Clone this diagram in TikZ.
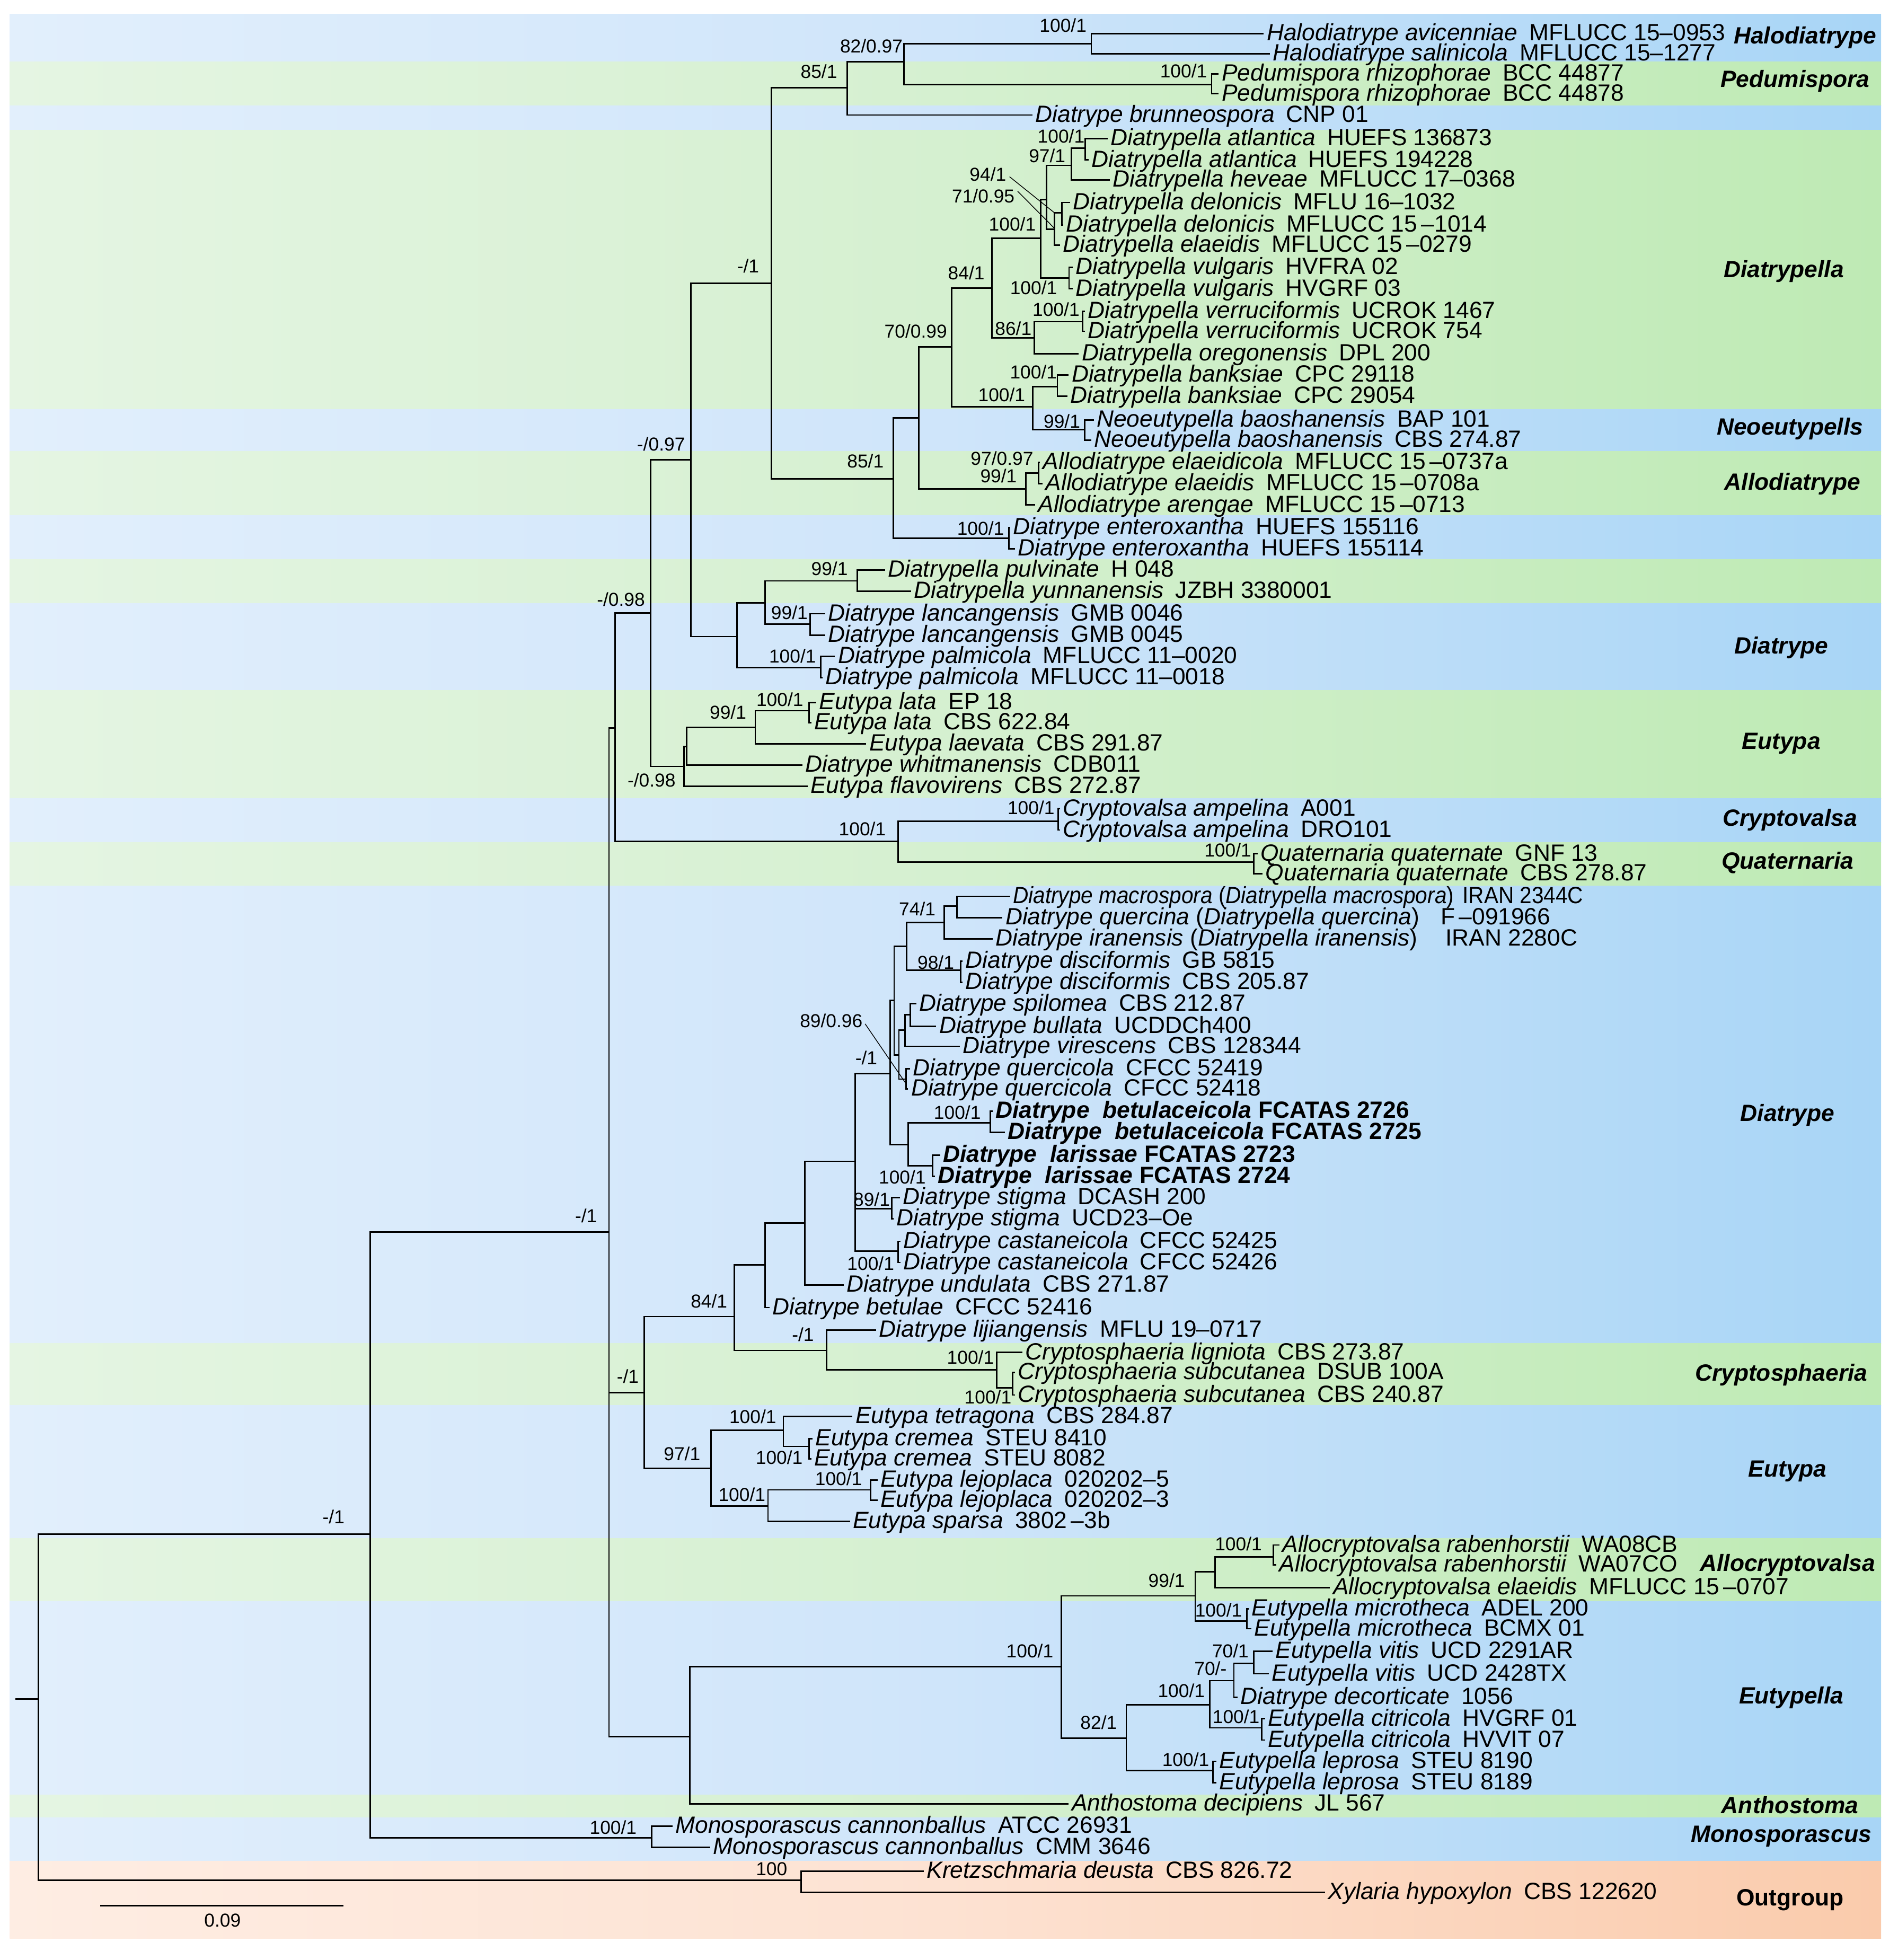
\documentclass[tikz,border=0pt]{standalone}
\usepackage{fontspec}
\usepackage{graphicx}
\setmainfont{Liberation Sans}

\definecolor{bandblueL}{RGB}{226,239,252}
\definecolor{bandblueM}{RGB}{207,229,250}
\definecolor{bandblueR}{RGB}{168,213,246}
\definecolor{bandgreenL}{RGB}{229,245,227}
\definecolor{bandgreenM}{RGB}{213,240,208}
\definecolor{bandgreenR}{RGB}{190,234,180}
\definecolor{bandpeachL}{RGB}{254,237,227}
\definecolor{bandpeachM}{RGB}{253,226,210}
\definecolor{bandpeachR}{RGB}{250,203,172}

\newcommand{\leaffont}{\fontsize{9.4}{10}\selectfont}
\newcommand{\supfont}{\fontsize{7.5}{8}\selectfont}
\newcommand{\taxon}[2]{\textit{#1}\hspace{0.5em}#2}
\newcommand{\newtaxon}[2]{\textbf{\textit{#1}\hspace{0.3em}#2}}

\begin{document}
\begin{tikzpicture}[x=0.5pt, y=-0.5pt,
    branch/.style={line width=0.6pt, line join=miter},
    leaf/.style={anchor=west, inner xsep=1pt, inner ysep=0pt, font=\leaffont, text height=0.68em, text depth=0.12em},
    sup/.style={anchor=east, inner sep=0pt, font=\supfont},
    grp/.style={font=\leaffont\bfseries\itshape, inner sep=0pt},
    ptr/.style={line width=0.3pt, shorten <=1.5pt}]
  \useasboundingbox (0,0) rectangle (1518,1568);

  \foreach \ya/\yb/\bc in {11.3/49.5/bandblue, 49.5/84.8/bandgreen, 84.8/103.9/bandblue,
      103.9/327.7/bandgreen, 327.7/361.2/bandblue, 361.2/412.3/bandgreen, 412.3/447.6/bandblue,
      447.6/482.9/bandgreen, 482.9/552.3/bandblue, 552.3/638.7/bandgreen, 638.7/674/bandblue,
      674/708.8/bandgreen, 708.8/1074.5/bandblue, 1074.5/1124.4/bandgreen, 1124.4/1230.6/bandblue,
      1230.6/1281/bandgreen, 1281/1436/bandblue, 1436/1454.3/bandgreen, 1454.3/1489/bandblue,
      1489/1550.7/bandpeach}
    \shade[left color=\bc L, right color=\bc R, middle color=\bc M] (7.8,\ya) rectangle (1504.9,\yb);

  \coordinate (rstub) at (12.3,1359.3);
  \coordinate (root) at (30.9,1359.3);
  \coordinate (nin) at (296,1227.3);
  \coordinate (nout) at (640.8,1504.1);
  \coordinate (nmono) at (521.3,1470.3);
  \coordinate (nmain) at (487.2,985.5);
  \coordinate (nupp) at (492,582.2);
  \coordinate (n098) at (520.3,490.2);
  \coordinate (n097) at (552.8,368);
  \coordinate (ntop) at (617,226.7);
  \coordinate (n85a) at (677.9,70.3);
  \coordinate (n82) at (723.2,49.3);
  \coordinate (nhalo) at (873,35);
  \coordinate (nped) at (969.3,67.5);
  \coordinate (n85b) at (714.7,383.1);
  \coordinate (n735) at (735,334.5);
  \coordinate (n70) at (761.4,277.5);
  \coordinate (n84) at (793.5,230.4);
  \coordinate (n100c) at (832.5,190.5);
  \coordinate (nB) at (837.3,159.5);
  \coordinate (n97) at (857.1,132.3);
  \coordinate (natl) at (868.1,118.5);
  \coordinate (ndel) at (843.4,183.5);
  \coordinate (ndel2) at (849.5,170.1);
  \coordinate (nvul) at (855.2,222.4);
  \coordinate (n86) at (827.3,270.4);
  \coordinate (nverr) at (866.2,257.4);
  \coordinate (n100b) at (826.3,325.5);
  \coordinate (nbank) at (845.9,309.3);
  \coordinate (nneo) at (867.9,343.5);
  \coordinate (nallo) at (820.5,391.2);
  \coordinate (nallo2) at (830.7,378.3);
  \coordinate (nent) at (807,430.6);
  \coordinate (n590) at (589.6,509.2);
  \coordinate (n612) at (612,482.4);
  \coordinate (npul) at (686,464.7);
  \coordinate (nlan) at (648.1,499.2);
  \coordinate (npal) at (656.6,534);
  \coordinate (ne1) at (547.1,613.1);
  \coordinate (ne2) at (549.3,597.2);
  \coordinate (n99e) at (604.2,581.9);
  \coordinate (nlata) at (647.1,568.6);
  \coordinate (ncq) at (718.4,673.2);
  \coordinate (ncry) at (846.6,657);
  \coordinate (nqua) at (1003,689.8);
  \coordinate (n515) at (515.3,1114.2);
  \coordinate (n84d) at (587.3,1053.2);
  \coordinate (n612b) at (612,1011.8);
  \coordinate (n644) at (643.7,978.4);
  \coordinate (n684) at (684.3,929);
  \coordinate (nM) at (712,859);
  \coordinate (n715) at (715.3,800.4);
  \coordinate (n725) at (725.2,757.2);
  \coordinate (n74) at (755.5,737.9);
  \coordinate (nmac) at (765.7,724.7);
  \coordinate (ndisc) at (768.6,776.3);
  \coordinate (n719) at (719.1,843.9);
  \coordinate (n724) at (724,824.1);
  \coordinate (nspi) at (728.3,811.7);
  \coordinate (nquer) at (725,863.3);
  \coordinate (nbl) at (726.6,915.6);
  \coordinate (nbet) at (792.2,898.1);
  \coordinate (nlar) at (746.2,932.7);
  \coordinate (nstig) at (713.5,966.8);
  \coordinate (ncast) at (718.4,1000.8);
  \coordinate (nlij) at (661.2,1080.4);
  \coordinate (ncrys) at (797.2,1095.9);
  \coordinate (nsub) at (810.2,1110.1);
  \coordinate (n97e) at (568.7,1174.7);
  \coordinate (ntet) at (626.7,1144.3);
  \coordinate (ncre) at (647.1,1157.1);
  \coordinate (nlejs) at (614.4,1204.7);
  \coordinate (nlej) at (696.3,1191.9);
  \coordinate (neua) at (551.9,1389.2);
  \coordinate (n100e) at (849.2,1333.2);
  \coordinate (n99f) at (956.1,1276.7);
  \coordinate (nacv) at (971.9,1257.4);
  \coordinate (nrab) at (1018.6,1245.5);
  \coordinate (nmic) at (997.5,1297);
  \coordinate (n82e) at (901,1390.6);
  \coordinate (n100f) at (967.7,1363.9);
  \coordinate (n70m) at (987.1,1344.5);
  \coordinate (nvit) at (1002.9,1330.9);
  \coordinate (ncit) at (1009.2,1382.3);
  \coordinate (nlep) at (970.5,1416.5);

  \node[leaf] (l01) at (1011,27) {\taxon{Halodiatrype avicenniae}{MFLUCC 15\textendash0953}};
  \node[leaf] (l02) at (1016,43) {\taxon{Halodiatrype salinicola}{MFLUCC 15\textendash1277}};
  \node[leaf] (l03) at (975,59) {\taxon{Pedumispora rhizophorae}{BCC 44877}};
  \node[leaf] (l04) at (975,75) {\taxon{Pedumispora rhizophorae}{BCC 44878}};
  \node[leaf] (l05) at (826,92) {\taxon{Diatrype brunneospora}{CNP 01}};
  \node[leaf] (l06) at (886,111) {\taxon{Diatrypella atlantica}{HUEFS 136873}};
  \node[leaf] (l07) at (871,128) {\taxon{Diatrypella atlantica}{HUEFS 194228}};
  \node[leaf] (l08) at (888,144) {\taxon{Diatrypella heveae}{MFLUCC 17\textendash0368}};
  \node[leaf] (l09) at (856,162) {\taxon{Diatrypella delonicis}{MFLU 16\textendash1032}};
  \node[leaf] (l10) at (850.5,180) {\taxon{Diatrypella delonicis}{MFLUCC 15\,\textendash1014}};
  \node[leaf] (l11) at (848,196) {\taxon{Diatrypella elaeidis}{MFLUCC 15\,\textendash0279}};
  \node[leaf] (l12) at (858,214) {\taxon{Diatrypella vulgaris}{HVFRA 02}};
  \node[leaf] (l13) at (858,231) {\taxon{Diatrypella vulgaris}{HVGRF 03}};
  \node[leaf] (l14) at (868,249) {\taxon{Diatrypella verruciformis}{UCROK 1467}};
  \node[leaf] (l15) at (868,265) {\taxon{Diatrypella verruciformis}{UCROK 754}};
  \node[leaf] (l16) at (863,283) {\taxon{Diatrypella oregonensis}{DPL 200}};
  \node[leaf] (l17) at (855,300) {\taxon{Diatrypella banksiae}{CPC 29118}};
  \node[leaf] (l18) at (854,317) {\taxon{Diatrypella banksiae}{CPC 29054}};
  \node[leaf] (l19) at (875,336) {\taxon{Neoeutypella baoshanensis}{BAP 101}};
  \node[leaf] (l20) at (873,352) {\taxon{Neoeutypella baoshanensis}{CBS 274.87}};
  \node[leaf] (l21) at (832,370) {\taxon{Allodiatrype elaeidicola}{MFLUCC 15\,\textendash0737a}};
  \node[leaf] (l22) at (834,387) {\taxon{Allodiatrype elaeidis}{MFLUCC 15\,\textendash0708a}};
  \node[leaf] (l23) at (828,404) {\taxon{Allodiatrype arengae}{MFLUCC 15\,\textendash0713}};
  \node[leaf] (l24) at (808,422) {\taxon{Diatrype enteroxantha}{HUEFS 155116}};
  \node[leaf] (l25) at (812,439) {\taxon{Diatrype enteroxantha}{HUEFS 155114}};
  \node[leaf] (l26) at (708,456) {\taxon{Diatrypella pulvinate}{H 048}};
  \node[leaf] (l27) at (729,473) {\taxon{Diatrypella yunnanensis}{JZBH 3380001}};
  \node[leaf] (l28) at (660,491) {\taxon{Diatrype lancangensis}{GMB 0046}};
  \node[leaf] (l29) at (660,508) {\taxon{Diatrype lancangensis}{GMB 0045}};
  \node[leaf] (l30) at (668,525) {\taxon{Diatrype palmicola}{MFLUCC 11\textendash0020}};
  \node[leaf] (l31) at (658,542) {\taxon{Diatrype palmicola}{MFLUCC 11\textendash0018}};
  \node[leaf] (l32) at (653,562) {\taxon{Eutypa lata}{EP 18}};
  \node[leaf] (l33) at (649,578) {\taxon{Eutypa lata}{CBS 622.84}};
  \node[leaf] (l34) at (693,595) {\taxon{Eutypa laevata}{CBS 291.87}};
  \node[leaf] (l35) at (642,612) {\taxon{Diatrype whitmanensis}{CDB011}};
  \node[leaf] (l36) at (646,629) {\taxon{Eutypa flavovirens}{CBS 272.87}};
  \node[leaf] (l37) at (848,647) {\taxon{Cryptovalsa ampelina}{A001}};
  \node[leaf] (l38) at (848,664) {\taxon{Cryptovalsa ampelina}{DRO101}};
  \node[leaf] (l39) at (1006,683) {\taxon{Quaternaria quaternate}{GNF 13}};
  \node[leaf] (l40) at (1010,699) {\taxon{Quaternaria quaternate}{CBS 278.87}};
  \node[leaf] (l41) at (808,717) {\scalebox{0.915}[1]{\textit{Diatrype macrospora} (\textit{Diatrypella macrospora})\hspace{0.4em}IRAN 2344C}};
  \node[leaf] (l42) at (802,734) {\textit{Diatrype quercina} (\textit{Diatrypella quercina})\hspace{0.9em}F\,\textendash091966};
  \node[leaf] (l43) at (794,751) {\textit{Diatrype iranensis} (\textit{Diatrypella iranensis})\hspace{1.2em}IRAN 2280C};
  \node[leaf] (l44) at (770,769) {\taxon{Diatrype disciformis}{GB 5815}};
  \node[leaf] (l45) at (770,786) {\taxon{Diatrype disciformis}{CBS 205.87}};
  \node[leaf] (l46) at (733,803) {\taxon{Diatrype spilomea}{CBS 212.87}};
  \node[leaf] (l47) at (749,821) {\taxon{Diatrype bullata}{UCDDCh400}};
  \node[leaf] (l48) at (768,837) {\taxon{Diatrype virescens}{CBS 128344}};
  \node[leaf] (l49) at (728,855) {\taxon{Diatrype quercicola}{CFCC 52419}};
  \node[leaf] (l50) at (726.5,871) {\taxon{Diatrype quercicola}{CFCC 52418}};
  \node[leaf] (l51) at (794,889) {\newtaxon{Diatrype\ \ betulaceicola}{FCATAS 2726}};
  \node[leaf] (l52) at (804,906) {\newtaxon{Diatrype\ \ betulaceicola}{FCATAS 2725}};
  \node[leaf] (l53) at (752,924) {\newtaxon{Diatrype\ \ larissae}{FCATAS 2723}};
  \node[leaf] (l54) at (748,941) {\newtaxon{Diatrype\ \ larissae}{FCATAS 2724}};
  \node[leaf] (l55) at (720,958) {\taxon{Diatrype stigma}{DCASH 200}};
  \node[leaf] (l56) at (715,975) {\taxon{Diatrype stigma}{UCD23\textendash Oe}};
  \node[leaf] (l57) at (720.5,993) {\taxon{Diatrype castaneicola}{CFCC 52425}};
  \node[leaf] (l58) at (720.5,1010) {\taxon{Diatrype castaneicola}{CFCC 52426}};
  \node[leaf] (l59) at (675,1028) {\taxon{Diatrype undulata}{CBS 271.87}};
  \node[leaf] (l60) at (615.5,1046) {\taxon{Diatrype betulae}{CFCC 52416}};
  \node[leaf] (l61) at (701,1064) {\taxon{Diatrype lijiangensis}{MFLU 19\textendash0717}};
  \node[leaf] (l62) at (818,1082) {\taxon{Cryptosphaeria ligniota}{CBS 273.87}};
  \node[leaf] (l63) at (812,1098) {\taxon{Cryptosphaeria subcutanea}{DSUB 100A}};
  \node[leaf] (l64) at (812,1116) {\taxon{Cryptosphaeria subcutanea}{CBS 240.87}};
  \node[leaf] (l65) at (682,1133) {\taxon{Eutypa tetragona}{CBS 284.87}};
  \node[leaf] (l66) at (650,1151) {\taxon{Eutypa cremea}{STEU 8410}};
  \node[leaf] (l67) at (649,1167) {\taxon{Eutypa cremea}{STEU 8082}};
  \node[leaf] (l68) at (702,1184) {\taxon{Eutypa lejoplaca}{020202\textendash5}};
  \node[leaf] (l69) at (702,1200) {\taxon{Eutypa lejoplaca}{020202\textendash3}};
  \node[leaf] (l70) at (680,1217) {\taxon{Eutypa sparsa}{3802\,\textendash3b}};
  \node[leaf] (l71) at (1023.5,1236) {\taxon{Allocryptovalsa rabenhorstii}{WA08CB}};
  \node[leaf] (l72) at (1021,1252) {\taxon{Allocryptovalsa rabenhorstii}{WA07CO}};
  \node[leaf] (l73) at (1064,1270) {\taxon{Allocryptovalsa elaeidis}{MFLUCC 15\,\textendash0707}};
  \node[leaf] (l74) at (999,1287) {\taxon{Eutypella microtheca}{ADEL 200}};
  \node[leaf] (l75) at (1001,1303) {\taxon{Eutypella microtheca}{BCMX 01}};
  \node[leaf] (l76) at (1018,1321) {\taxon{Eutypella vitis}{UCD 2291AR}};
  \node[leaf] (l77) at (1015,1339) {\taxon{Eutypella vitis}{UCD 2428TX}};
  \node[leaf] (l78) at (990,1358) {\taxon{Diatrype decorticate}{1056}};
  \node[leaf] (l79) at (1012,1375) {\taxon{Eutypella citricola}{HVGRF 01}};
  \node[leaf] (l80) at (1012,1392) {\taxon{Eutypella citricola}{HVVIT 07}};
  \node[leaf] (l81) at (973,1409) {\taxon{Eutypella leprosa}{STEU 8190}};
  \node[leaf] (l82) at (973,1426) {\taxon{Eutypella leprosa}{STEU 8189}};
  \node[leaf] (l83) at (855,1443) {\taxon{Anthostoma decipiens}{JL 567}};
  \node[leaf] (l84) at (538,1461) {\taxon{Monosporascus cannonballus}{ATCC 26931}};
  \node[leaf] (l85) at (568,1478) {\taxon{Monosporascus cannonballus}{CMM 3646}};
  \node[leaf] (l86) at (739,1497) {\taxon{Kretzschmaria deusta}{CBS 826.72}};
  \node[leaf] (l87) at (1060,1514) {\taxon{Xylaria hypoxylon}{CBS 122620}};

  \draw[branch] (rstub) -- (root);
  \foreach \a/\b in {root/nin, root/nout, nout/l86.west, nout/l87.west, nin/nmain, nin/nmono,
      nmono/l84.west, nmono/l85.west, nmain/nupp, nmain/n515, nmain/neua, nupp/n098, nupp/ncq,
      n098/n097, n098/ne1, n097/ntop, n097/n590, ntop/n85a, ntop/n85b, n85a/n82, n85a/l05.west,
      n82/nhalo, n82/nped, nhalo/l01.west, nhalo/l02.west, nped/l03.west, nped/l04.west,
      n85b/n735, n85b/nent, n735/n70, n735/nallo, n70/n84, n70/n100b, n84/n100c, n84/n86,
      n100c/nB, n100c/nvul, nB/n97, nB/ndel, n97/natl, n97/l08.west, natl/l06.west, natl/l07.west,
      ndel/ndel2, ndel/l11.west, ndel2/l09.west, ndel2/l10.west, nvul/l12.west, nvul/l13.west,
      n86/nverr, n86/l16.west, nverr/l14.west, nverr/l15.west, n100b/nbank, n100b/nneo,
      nbank/l17.west, nbank/l18.west, nneo/l19.west, nneo/l20.west, nallo/nallo2, nallo/l23.west,
      nallo2/l21.west, nallo2/l22.west, nent/l24.west, nent/l25.west, n590/n612, n590/npal,
      n612/npul, n612/nlan, npul/l26.west, npul/l27.west, nlan/l28.west, nlan/l29.west,
      npal/l30.west, npal/l31.west, ne1/ne2, ne1/l36.west, ne2/n99e, ne2/l35.west,
      n99e/nlata, n99e/l34.west, nlata/l32.west, nlata/l33.west, ncq/ncry, ncq/nqua,
      ncry/l37.west, ncry/l38.west, nqua/l39.west, nqua/l40.west, n515/n84d, n515/n97e,
      n84d/n612b, n84d/nlij, n612b/n644, n612b/l60.west, n644/n684, n644/l59.west,
      n684/nM, n684/nstig, n684/ncast, nM/n715, nM/nbl, n715/n725, n715/n719,
      n725/n74, n725/ndisc, n74/nmac, n74/l43.west, nmac/l41.west, nmac/l42.west,
      ndisc/l44.west, ndisc/l45.west, n719/n724, n719/nquer, n724/nspi, n724/l48.west,
      nspi/l46.west, nspi/l47.west, nquer/l49.west, nquer/l50.west, nbl/nbet, nbl/nlar,
      nbet/l51.west, nbet/l52.west, nlar/l53.west, nlar/l54.west, nstig/l55.west, nstig/l56.west,
      ncast/l57.west, ncast/l58.west, nlij/l61.west, nlij/ncrys, ncrys/l62.west, ncrys/nsub,
      nsub/l63.west, nsub/l64.west, n97e/ntet, n97e/nlejs, ntet/l65.west, ntet/ncre,
      ncre/l66.west, ncre/l67.west, nlejs/nlej, nlejs/l70.west, nlej/l68.west, nlej/l69.west,
      neua/n100e, neua/l83.west, n100e/n99f, n100e/n82e, n99f/nacv, n99f/nmic,
      nacv/nrab, nacv/l73.west, nrab/l71.west, nrab/l72.west, nmic/l74.west, nmic/l75.west,
      n82e/n100f, n82e/nlep, n100f/n70m, n100f/ncit, n70m/nvit, n70m/l78.west,
      nvit/l76.west, nvit/l77.west, ncit/l79.west, ncit/l80.west, nlep/l81.west, nlep/l82.west}
    \draw[branch] (\a) |- (\b);

  \node[sup] (s-halo) at (869.6,20.5) {100/1};
  \node[sup] (s-82) at (722.5,36.8) {82/0.97};
  \node[sup] (s-85a) at (670.1,57.3) {85/1};
  \node[sup] (s-ped) at (966,56.7) {100/1};
  \node[sup] (s-top) at (607.6,213) {-/1};
  \node[sup] (s-85b) at (707.3,369) {85/1};
  \node[sup] (s-70) at (758,265) {70/0.99};
  \node[sup] (s-84) at (788,218.5) {84/1};
  \node[sup] (s-100c) at (829,179.5) {100/1};
  \node[sup] (s-97) at (852.7,124.4) {97/1};
  \node[sup] (s-atl) at (868,109) {100/1};
  \node[sup] (s-94) at (805.3,139.5) {94/1};
  \node[sup] (s-71) at (812,156.8) {71/0.95};
  \node[sup] (s-vul) at (846,230) {100/1};
  \node[sup] (s-86) at (825.6,262.8) {86/1};
  \node[sup] (s-verr) at (864,247.7) {100/1};
  \node[sup] (s-100b) at (820.5,315.8) {100/1};
  \node[sup] (s-bank) at (845.9,297.4) {100/1};
  \node[sup] (s-neo) at (864.5,337) {99/1};
  \node[sup] (s-allo) at (813.8,380.7) {99/1};
  \node[sup] (s-allo2) at (827,366.6) {97/0.97};
  \node[sup] (s-ent) at (803.6,422.6) {100/1};
  \node[sup] (s-097) at (548.4,355.2) {-/0.97};
  \node[sup] (s-098) at (516.3,479.3) {-/0.98};
  \node[sup] (s-pul) at (678.6,455) {99/1};
  \node[sup] (s-lan) at (646.5,490) {99/1};
  \node[sup] (s-pal) at (653.2,525) {100/1};
  \node[sup] (s-e1) at (540.8,624) {-/0.98};
  \node[sup] (s-99e) at (597.4,570) {99/1};
  \node[sup] (s-lata) at (643,559.6) {100/1};
  \node[sup] (s-cq) at (709,663) {100/1};
  \node[sup] (s-cry) at (844,646) {100/1};
  \node[sup] (s-qua) at (1001.4,680) {100/1};
  \node[sup] (s-main) at (478,972.5) {-/1};
  \node[sup] (s-515) at (511.4,1100.9) {-/1};
  \node[sup] (s-84d) at (582.2,1041) {84/1};
  \node[sup] (s-M) at (702.2,846.3) {-/1};
  \node[sup] (s-74) at (748.8,726.9) {74/1};
  \node[sup] (s-disc) at (763.6,770) {98/1};
  \node[sup] (s-quer) at (690.4,816.6) {89/0.96};
  \node[sup] (s-bet) at (785,890) {100/1};
  \node[sup] (s-lar) at (741,941.7) {100/1};
  \node[sup] (s-stig) at (712.3,959.5) {89/1};
  \node[sup] (s-cast) at (715.7,1010.6) {100/1};
  \node[sup] (s-lij) at (651.5,1067.8) {-/1};
  \node[sup] (s-crys) at (795.5,1085.8) {100/1};
  \node[sup] (s-sub) at (809.5,1117.6) {100/1};
  \node[sup] (s-97e) at (560.6,1163) {97/1};
  \node[sup] (s-tet) at (621.4,1133.3) {100/1};
  \node[sup] (s-cre) at (642.5,1166) {100/1};
  \node[sup] (s-lejs) at (612.7,1195.8) {100/1};
  \node[sup] (s-lej) at (690,1183) {100/1};
  \node[sup] (s-100e) at (843,1320.7) {100/1};
  \node[sup] (s-99f) at (948.3,1264.2) {99/1};
  \node[sup] (s-rab) at (1009.9,1235) {100/1};
  \node[sup] (s-mic) at (994,1288) {100/1};
  \node[sup] (s-82e) at (893.9,1377.8) {82/1};
  \node[sup] (s-100f) at (964.2,1352.6) {100/1};
  \node[sup] (s-70m) at (981.7,1334.7) {70/-};
  \node[sup] (s-vit) at (999.3,1320.7) {70/1};
  \node[sup] (s-cit) at (1008,1373.4) {100/1};
  \node[sup] (s-lep) at (967.7,1407.6) {100/1};
  \node[sup] (s-in) at (276,1213.5) {-/1};
  \node[sup] (s-mono) at (509.7,1462) {100/1};
  \node[sup] (s-out) at (630.2,1495.3) {100};

  \coordinate (p94) at (843.4,170.1);
  \coordinate (p71) at (843,182.1);
  \coordinate (p89) at (724.5,866.5);
  \draw[ptr] (s-94.east) -- (p94);
  \draw[ptr] (s-71.north east) -- (p71);
  \draw[ptr] (s-quer.east) -- (p89);

  \node[grp] (g01) at (1444,30) {Halodiatrype};
  \node[grp] (g02) at (1436,65) {Pedumispora};
  \node[grp] (g03) at (1427,217) {Diatrypella};
  \node[grp] (g04) at (1432,343) {Neoeutypells};
  \node[grp] (g05) at (1434,387) {Allodiatrype};
  \node[grp] (g06) at (1425,518) {Diatrype};
  \node[grp] (g07) at (1425,595) {Eutypa};
  \node[grp] (g08) at (1432,656) {Cryptovalsa};
  \node[grp] (g09) at (1430,690) {Quaternaria};
  \node[grp] (g10) at (1430,892) {Diatrype};
  \node[grp] (g11) at (1425,1100) {Cryptosphaeria};
  \node[grp] (g12) at (1430,1177) {Eutypa};
  \node[grp] (g13) at (1430,1252) {Allocryptovalsa};
  \node[grp] (g14) at (1433,1358) {Eutypella};
  \node[grp] (g15) at (1432,1444) {Anthostoma};
  \node[grp] (g16) at (1425,1469) {Monosporascus};
  \node[grp, font=\leaffont\bfseries] (g17) at (1432,1520) {Outgroup};

  \coordinate (sb-a) at (80.3,1524.5);
  \coordinate (sb-b) at (274.9,1524.5);
  \draw[branch] (sb-a) -- (sb-b);
  \node[sup, anchor=center] (sb-l) at (178,1536.3) {0.09};
\end{tikzpicture}
\end{document}
